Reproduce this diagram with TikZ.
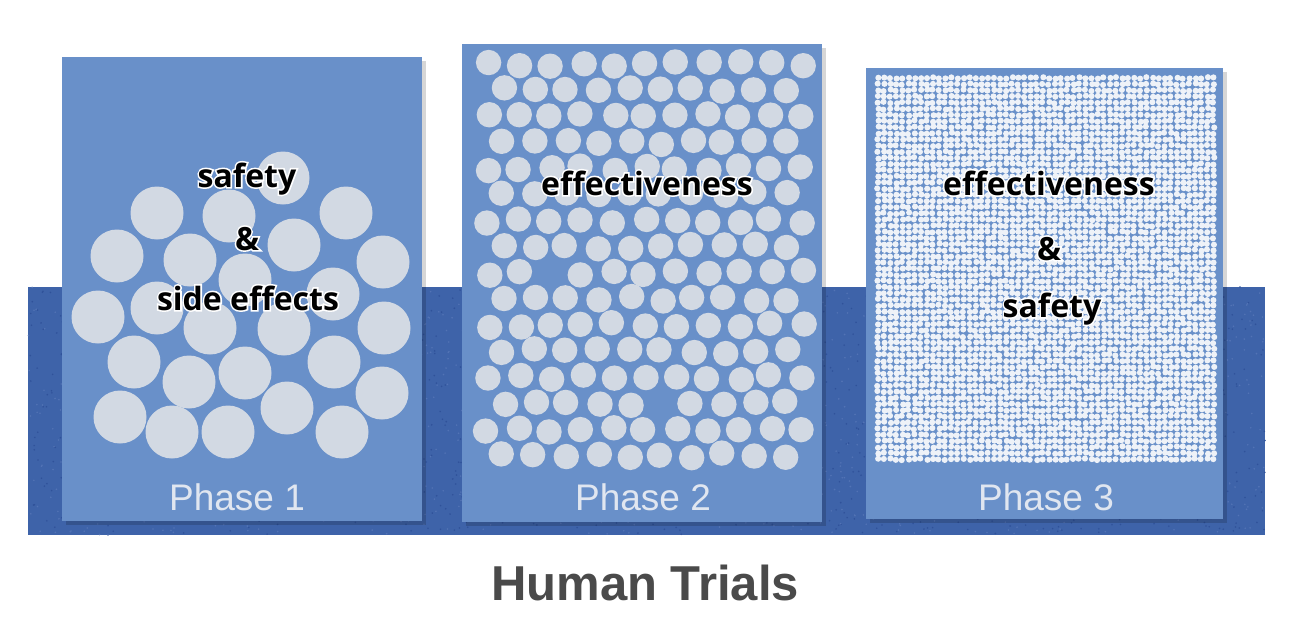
\documentclass[tikz,border=0pt]{standalone}
\usepackage{fontspec}
\setmainfont{Liberation Sans}
\newfontfamily\ovfont{Open Sans}
\newfontfamily\ovhalo{Open Sans}[FakeBold=10]
\definecolor{panelblue}{HTML}{6990C9}
\definecolor{bandblue}{HTML}{3E63A9}
\definecolor{speckA}{HTML}{30529A}
\definecolor{speckB}{HTML}{5273B5}
\definecolor{dotgrey}{HTML}{D2D9E3}
\definecolor{pdot}{HTML}{EEF2F8}
\definecolor{phasetext}{HTML}{E0E6F0}
\definecolor{humangrey}{HTML}{4A4A4A}
\newcommand{\halotext}[1]{\leavevmode\rlap{\color{white}\ovhalo\bfseries #1}{\ovfont\bfseries #1}}
\begin{document}
\begin{tikzpicture}[x=1pt,y=-1pt,
  pshadow/.style={fill=black,fill opacity=0.16},
  panelfill/.style={fill=panelblue},
  bigdot/.style={fill=dotgrey},
  ov/.style={font=\fontsize{32}{32}\selectfont,anchor=base,inner sep=0pt},
  phase/.style={font=\fontsize{37}{37}\selectfont,text=phasetext,anchor=base,inner sep=0pt},
  title/.style={font=\bfseries\fontsize{49}{49}\selectfont,text=humangrey,anchor=base,inner sep=0pt}]
\useasboundingbox (0,0) rectangle (1308,624);
\fill[white] (0,0) rectangle (1308,624);
% band
\fill[bandblue] (28,287) rectangle (1265,535);
\pgfmathsetseed{3}
\foreach \k in {1,...,14} {
  \fill[speckA] \foreach \m in {1,...,100} { (28+1237*rnd,287+248*rnd) circle[radius=0.9pt] };
  \fill[speckB] \foreach \m in {1,...,100} { (28+1237*rnd,287+248*rnd) circle[radius=0.9pt] };
}
% panels
\fill[pshadow] (66,61) rectangle (426,525);
\fill[panelfill] (62,57) rectangle (422,521);
\fill[pshadow] (466,48) rectangle (826,526);
\fill[panelfill] (462,44) rectangle (822,522);
\fill[pshadow] (870,72) rectangle (1227,523);
\fill[panelfill] (866,68) rectangle (1223,519);
% phase 1 circles
\foreach \x/\y in {283/178,157/213,229/216,346/213,117/256,190/260,294/245,383/262,
  245/280,333/294,98/317,157/308,210/328,284/329,384/328,134/362,189/382,245/373,
  334/362,382/393,120/417,172/432,228/432,287/408,342/432}
  \fill[bigdot] (\x,\y) circle[radius=26.5pt];
% phase 2 circles
\pgfmathsetseed{42}
\foreach \i in {0,...,15} {
  \pgfmathsetmacro\yy{64+26.1*\i}
  \pgfmathtruncatemacro\odd{mod(\i,2)}
  \pgfmathtruncatemacro\nc{\odd==1 ? 9 : 10}
  \foreach \j in {0,...,\nc} {
    \pgfmathsetmacro\xx{488+15.7*\odd+31.4*\j+2.5*rand}
    \pgfmathsetmacro\yj{\yy+2.5*rand}
    \pgfmathsetmacro\keep{rnd}
    \ifdim\keep pt>0.03pt \fill[bigdot] (\xx,\yj) circle[radius=12.7pt];\fi
  }
}
% phase 3 dots
\pgfmathsetseed{11}
\foreach \i in {0,...,62} {
  \fill[pdot] \foreach \j in {0,...,55} {
    (878+6.1*\j+0.8*rand,78+6.15*\i+0.8*rand) circle[radius=3.05pt] };
}
% overlay texts
\node[ov] (s1) at (247,187) {\halotext{safety}};
\node[ov] (a1) at (247,250) {\halotext{\&}};
\node[ov] (e1) at (248,310) {\halotext{side effects}};
\node[ov] (e2) at (647,195) {\halotext{effectiveness}};
\node[ov] (e3) at (1049,195) {\halotext{effectiveness}};
\node[ov] (a3) at (1049,260) {\halotext{\&}};
\node[ov] (s3) at (1052,317) {\halotext{safety}};
% phase labels
\node[phase] (ph1) at (237,510) {Phase 1};
\node[phase] (ph2) at (643,510) {Phase 2};
\node[phase] (ph3) at (1046,510) {Phase 3};
\node[title] (ht) at (645,600) {Human Trials};
\end{tikzpicture}
\end{document}
